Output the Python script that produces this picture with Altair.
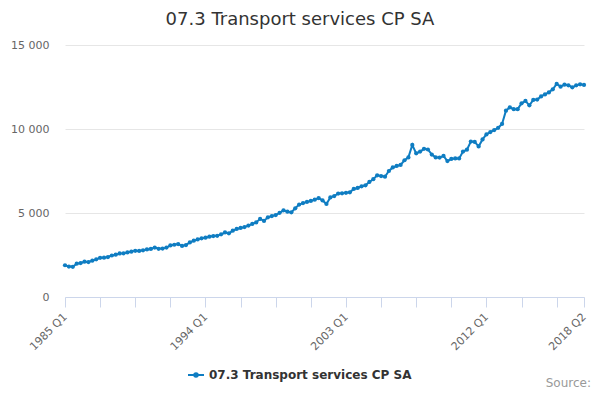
import altair as alt
import pandas as pd

# Quarterly series, 1985 Q1 .. 2018 Q2
values = [
    1890, 1810, 1800, 1980, 2020, 2100, 2080, 2160,   # 1985-1986
    2240, 2330, 2340, 2380, 2470, 2520, 2590, 2600,   # 1987-1988
    2650, 2700, 2750, 2740, 2780, 2830, 2860, 2940,   # 1989-1990
    2870, 2880, 2940, 3070, 3110, 3150, 3040, 3090,   # 1991-1992
    3250, 3350, 3430, 3490, 3530, 3590, 3630, 3640,   # 1993-1994
    3730, 3840, 3790, 3950, 4050, 4110, 4160, 4250,   # 1995-1996
    4350, 4440, 4650, 4530, 4740, 4820, 4880, 5010,   # 1997-1998
    5160, 5080, 5040, 5280, 5500, 5590, 5660, 5720,   # 1999-2000
    5790, 5890, 5750, 5540, 5930, 6010, 6160, 6170,   # 2001-2002
    6200, 6230, 6430, 6490, 6590, 6650, 6850, 7010,   # 2003-2004
    7240, 7200, 7160, 7500, 7710, 7800, 7860, 8140,   # 2005-2006
    8310, 9050, 8550, 8660, 8820, 8780, 8480, 8310,   # 2007-2008
    8300, 8400, 8090, 8220, 8250, 8250, 8660, 8770,   # 2009-2010
    9250, 9230, 8960, 9380, 9680, 9820, 9940, 10070,  # 2011-2012
    10300, 11090, 11290, 11180, 11180, 11530, 11670, 11410,  # 2013-2014
    11730, 11750, 11940, 12060, 12180, 12360, 12680, 12520,  # 2015-2016
    12640, 12600, 12480, 12600, 12660, 12620,         # 2017-2018 Q2
]
quarters = [f"{1985 + i // 4} Q{i % 4 + 1}" for i in range(len(values))]
series_name = "07.3 Transport services CP SA"
source_label = "Source:"

x_ticks = list(range(0, 127, 9)) + [133]
y_ticks = [0, 5000, 10000, 15000]

df = pd.DataFrame({
    "idx": list(range(len(values))),
    "quarter": quarters,
    "value": values,
    "series": series_name,
})

blue = "#0f7dc2"
# legend symbol: short line with a small round marker in the middle
legend_symbol = ("M-1,0H1M-0.22,0A0.22,0.22,0,1,1,0.22,0"
                 "A0.22,0.22,0,1,1,-0.22,0Z")

line = alt.Chart(df).mark_line(
    strokeWidth=2,
    point=alt.OverlayMarkDef(filled=True, size=18, color=blue),
).encode(
    x=alt.X("idx:Q",
            scale=alt.Scale(domain=[0, 133], nice=False, zero=False),
            axis=alt.Axis(
                values=x_ticks,
                title=None,
                grid=False,
                labelExpr=("datum.value % 36 == 0 || datum.value == 133 ? "
                           "(1985 + floor(datum.value / 4)) + ' Q' + (datum.value % 4 + 1) : ''"),
                labelAngle=315,
                labelAlign="right",
                labelBaseline="middle",
                labelPadding=8,
                labelFontSize=11,
                labelColor="#666666",
                labelFont="DejaVu Sans",
                labelOverlap=False,
                labelFlush=False,
                tickSize=10,
                tickColor="#ccd6eb",
                domainColor="#ccd6eb",
            )),
    y=alt.Y("value:Q",
            scale=alt.Scale(domain=[0, 15000], nice=False),
            axis=alt.Axis(
                values=y_ticks,
                title=None,
                domain=False,
                ticks=False,
                labelExpr="replace(format(datum.value, ','), ',', ' ')",
                labelPadding=16,
                labelFontSize=11,
                labelColor="#666666",
                labelFont="DejaVu Sans",
                gridColor="#e6e6e6",
            )),
    color=alt.Color("series:N",
                    scale=alt.Scale(domain=[series_name], range=[blue]),
                    legend=alt.Legend(
                        title=None,
                        orient="none",
                        legendX=122,
                        legendY=321,
                        padding=0,
                        symbolType=legend_symbol,
                        symbolSize=256,
                        symbolStrokeWidth=2,
                        symbolFillColor=blue,
                        labelFont="DejaVu Sans",
                        labelFontSize=12,
                        labelFontWeight="bold",
                        labelColor="#333333",
                        labelOffset=4,
                        labelLimit=400,
                    )),
)

# chart title, centred on the whole 600px page
title = alt.Chart(pd.DataFrame({"label": [series_name]})).mark_text(
    align="center", baseline="alphabetic", font="DejaVu Sans",
    fontSize=18, color="#333333",
).encode(
    x=alt.value(235),
    y=alt.value(-20),
    text="label:N",
)

source = alt.Chart(pd.DataFrame({"label": [source_label]})).mark_text(
    align="right", baseline="alphabetic", font="DejaVu Sans",
    fontSize=12, color="#999999",
).encode(
    x=alt.value(526),
    y=alt.value(342),
    text="label:N",
)

chart = alt.layer(line, title, source).properties(
    width=519,
    height=252,
    padding={"left": 57, "top": 37, "right": 8, "bottom": 94},
    autosize=alt.AutoSizeParams(type="none"),
).configure_view(
    strokeWidth=0
)

chart.save("out.html", embed_options={"renderer": "svg", "actions": False})
